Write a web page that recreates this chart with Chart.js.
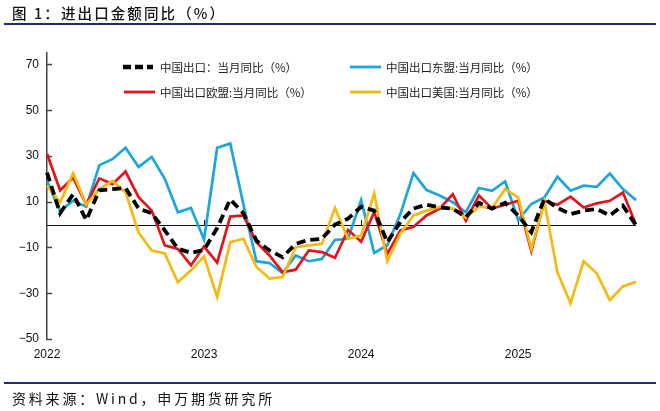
<!DOCTYPE html>
<html>
<head>
<meta charset="utf-8">
<script src="https://cdn.jsdelivr.net/npm/chart.js@4/dist/chart.umd.min.js"></script>
<style>
  html,body{margin:0;padding:0;background:#fff;}
  #wrap{position:relative;width:660px;height:411px;overflow:hidden;background:#fff;}
  #c{position:absolute;left:0;top:0;}
  .title{position:absolute;left:12px;top:3px;font-family:"Noto Sans CJK SC","Noto Sans",sans-serif;font-size:14.5px;font-weight:500;letter-spacing:2.1px;color:#111;line-height:20px;white-space:nowrap;}
  .rule{position:absolute;left:4px;width:652px;height:2px;background:#1F2A78;}
  .src{position:absolute;left:12px;top:388px;font-family:"Noto Sans CJK SC","Noto Sans",sans-serif;font-size:14px;letter-spacing:2.8px;color:#111;line-height:20px;white-space:nowrap;}
</style>
</head>
<body>
<div id="wrap">
  <canvas id="c" width="660" height="411"></canvas>
  <div class="title">图 1：进出口金额同比（%）</div>
  <div class="rule" style="top:23px"></div>
  <div class="rule" style="top:382px"></div>
  <div class="src">资料来源：Wind，申万期货研究所</div>
</div>
<script>
// ---- data ----
const months = [
  "2022-01","2022-02","2022-03","2022-04","2022-05","2022-06","2022-07","2022-08","2022-09","2022-10","2022-11","2022-12",
  "2023-01","2023-02","2023-03","2023-04","2023-05","2023-06","2023-07","2023-08","2023-09","2023-10","2023-11","2023-12",
  "2024-01","2024-02","2024-03","2024-04","2024-05","2024-06","2024-07","2024-08","2024-09","2024-10","2024-11","2024-12",
  "2025-01","2025-02","2025-03","2025-04","2025-05","2025-06","2025-07","2025-08","2025-09","2025-10"
];
const seriesNames = ["中国出口：当月同比（%）","中国出口东盟:当月同比（%）","中国出口欧盟:当月同比（%）","中国出口美国:当月同比（%）"];
const exportTotal = [22.7,5,13.3,2,15,15.5,16,7,5,-2.5,-10.5,-12.4,
  -11,-1.5,11,5,-7,-11.3,-14.2,-8.4,-6.7,-6.2,0,2.6,
  7.8,6.1,-7.7,1.2,7,8.7,7.5,7,3.3,9.5,7,9.5,
  4,-3.3,11.3,7.3,4.6,6.1,6.8,4,8.3,-0.4];
const exportASEAN = [19,6,10.4,7.8,26,28.6,33.6,25.2,29.6,20,5.4,7.3,
  -6.5,33.6,35.4,9,-16,-16.8,-21.2,-13.5,-16,-15,-6.7,-6.2,
  10.7,-12.4,-9,4.6,22.5,15.1,12.7,9.8,5.4,16,14.8,18.9,
  2,9,11.9,20.9,14.8,17,16.5,22.3,15.5,10.7];
const exportEU = [31,15,20.5,8.7,20.2,17.7,23.2,12,6.1,-9.1,-10.6,-17.8,
  -9.6,-16.6,3.5,4,-7.7,-13.5,-20.8,-19.7,-11.3,-12,-14.5,-2.3,
  -7.5,5.5,-12.8,-2.5,-1,4,7,13.3,1.7,12.7,7,8.7,
  10.4,-11.6,10.4,8.7,12.2,7.5,9.3,10.4,14,0];
const exportUS = [17.1,9.7,22.5,8.7,15.5,19.1,14.1,-3.5,-11.3,-12.6,-25.2,-20,
  -14,-31.6,-7.7,-6.2,-18.5,-23.6,-22.9,-9.9,-9.1,-8.4,7.3,-6.2,
  -4.8,13.6,-16,-4,4,6.1,7.8,7,3,7.8,7.3,15.5,
  11.9,-10.6,10,-20.9,-34.4,-16,-21.3,-33,-27,-25];
const yTicks = [-50,-30,-10,10,30,50,70];
const yMin = -50, yMax = 75;

const colors = {black:"#000000", blue:"#1BA6DD", red:"#E2141C", yellow:"#F6B90F"};
const FONT_NUM = '"Liberation Sans", Arial, sans-serif';
const FONT_CJK = '"Noto Sans CJK SC", "Noto Sans", sans-serif';

const datasets = [
  {label:seriesNames[0], data:exportTotal, borderColor:colors.black, borderWidth:3.8, borderDash:[9,5], order:0},
  {label:seriesNames[1], data:exportASEAN, borderColor:colors.blue, borderWidth:2.7, order:3},
  {label:seriesNames[2], data:exportEU, borderColor:colors.red, borderWidth:2.7, order:2},
  {label:seriesNames[3], data:exportUS, borderColor:colors.yellow, borderWidth:2.7, order:1}
].map(d => Object.assign({pointRadius:0, pointHoverRadius:0, fill:false, tension:0, borderJoinStyle:'miter', borderCapStyle:'butt'}, d));

const decorPlugin = {
  id:'decor',
  beforeDatasetsDraw(chart){
    const {ctx, chartArea:a, scales:{x,y}} = chart;
    ctx.save();
    const y0 = y.getPixelForValue(0);
    ctx.strokeStyle = '#111'; ctx.lineWidth = 1;
    ctx.beginPath(); ctx.moveTo(a.left, Math.round(y0)+0.5); ctx.lineTo(a.right, Math.round(y0)+0.5); ctx.stroke();
    months.forEach((m,i)=>{
      if(m.endsWith('-01') && i>0){
        const px = Math.round(x.getPixelForValue(i))+0.5;
        ctx.beginPath(); ctx.moveTo(px, Math.round(y0)); ctx.lineTo(px, Math.round(y0)-5); ctx.stroke();
      }
    });
    ctx.strokeStyle = '#444'; ctx.lineWidth = 1.5;
    yTicks.forEach(v=>{
      const py = Math.round(y.getPixelForValue(v))+0.5;
      ctx.beginPath(); ctx.moveTo(a.left, py); ctx.lineTo(a.left+5, py); ctx.stroke();
    });
    ctx.restore();
  },
  afterDraw(chart){
    const ctx = chart.ctx;
    const items = [
      {ds:0, x1:123, x2:153, tx:160, y:67},
      {ds:1, x1:350, x2:381, tx:386, y:67},
      {ds:2, x1:124, x2:155, tx:160, y:92},
      {ds:3, x1:350, x2:381, tx:386, y:92}
    ];
    ctx.save();
    items.forEach(it=>{
      const d = chart.data.datasets[it.ds];
      ctx.strokeStyle = d.borderColor;
      ctx.lineWidth = it.ds===0 ? 4.5 : 2.8;
      ctx.setLineDash(it.ds===0 ? [8,4] : []);
      ctx.beginPath(); ctx.moveTo(it.x1, it.y); ctx.lineTo(it.x2, it.y); ctx.stroke();
      ctx.setLineDash([]);
      ctx.fillStyle = '#222';
      ctx.font = '11.5px ' + FONT_CJK;
      ctx.textBaseline = 'middle'; ctx.textAlign = 'left';
      ctx.fillText(d.label, it.tx, it.y+0.5);
    });
    ctx.restore();
  }
};

new Chart(document.getElementById('c'), {
  type:'line',
  data:{labels:months, datasets},
  options:{
    responsive:false, animation:false, devicePixelRatio:1,
    layout:{padding:{top:53, right:24, bottom:42, left:0}},
    plugins:{legend:{display:false}, tooltip:{enabled:false}},
    scales:{
      x:{
        type:'category', offset:false,
        grid:{display:false, drawTicks:false},
        border:{display:false},
        afterFit(s){ s.height = 30; },
        ticks:{
          autoSkip:false, maxRotation:0, padding:8, color:'#111',
          font:{family:FONT_NUM, size:12},
          callback(v){ const l = this.getLabelForValue(v); return l.endsWith('-01') ? l.slice(0,4) : ''; }
        }
      },
      y:{
        min:yMin, max:yMax,
        afterBuildTicks(s){ s.ticks = yTicks.map(v=>({value:v})); },
        afterFit(s){ s.width = 47; },
        grid:{display:false, drawTicks:false},
        border:{display:true, color:'#444', width:1.5},
        ticks:{
          padding:8, color:'#111', font:{family:FONT_NUM, size:12},
          callback(v){ return String(v).replace('-', '\u2212'); }
        }
      }
    }
  },
  plugins:[decorPlugin]
});
</script>
</body>
</html>
